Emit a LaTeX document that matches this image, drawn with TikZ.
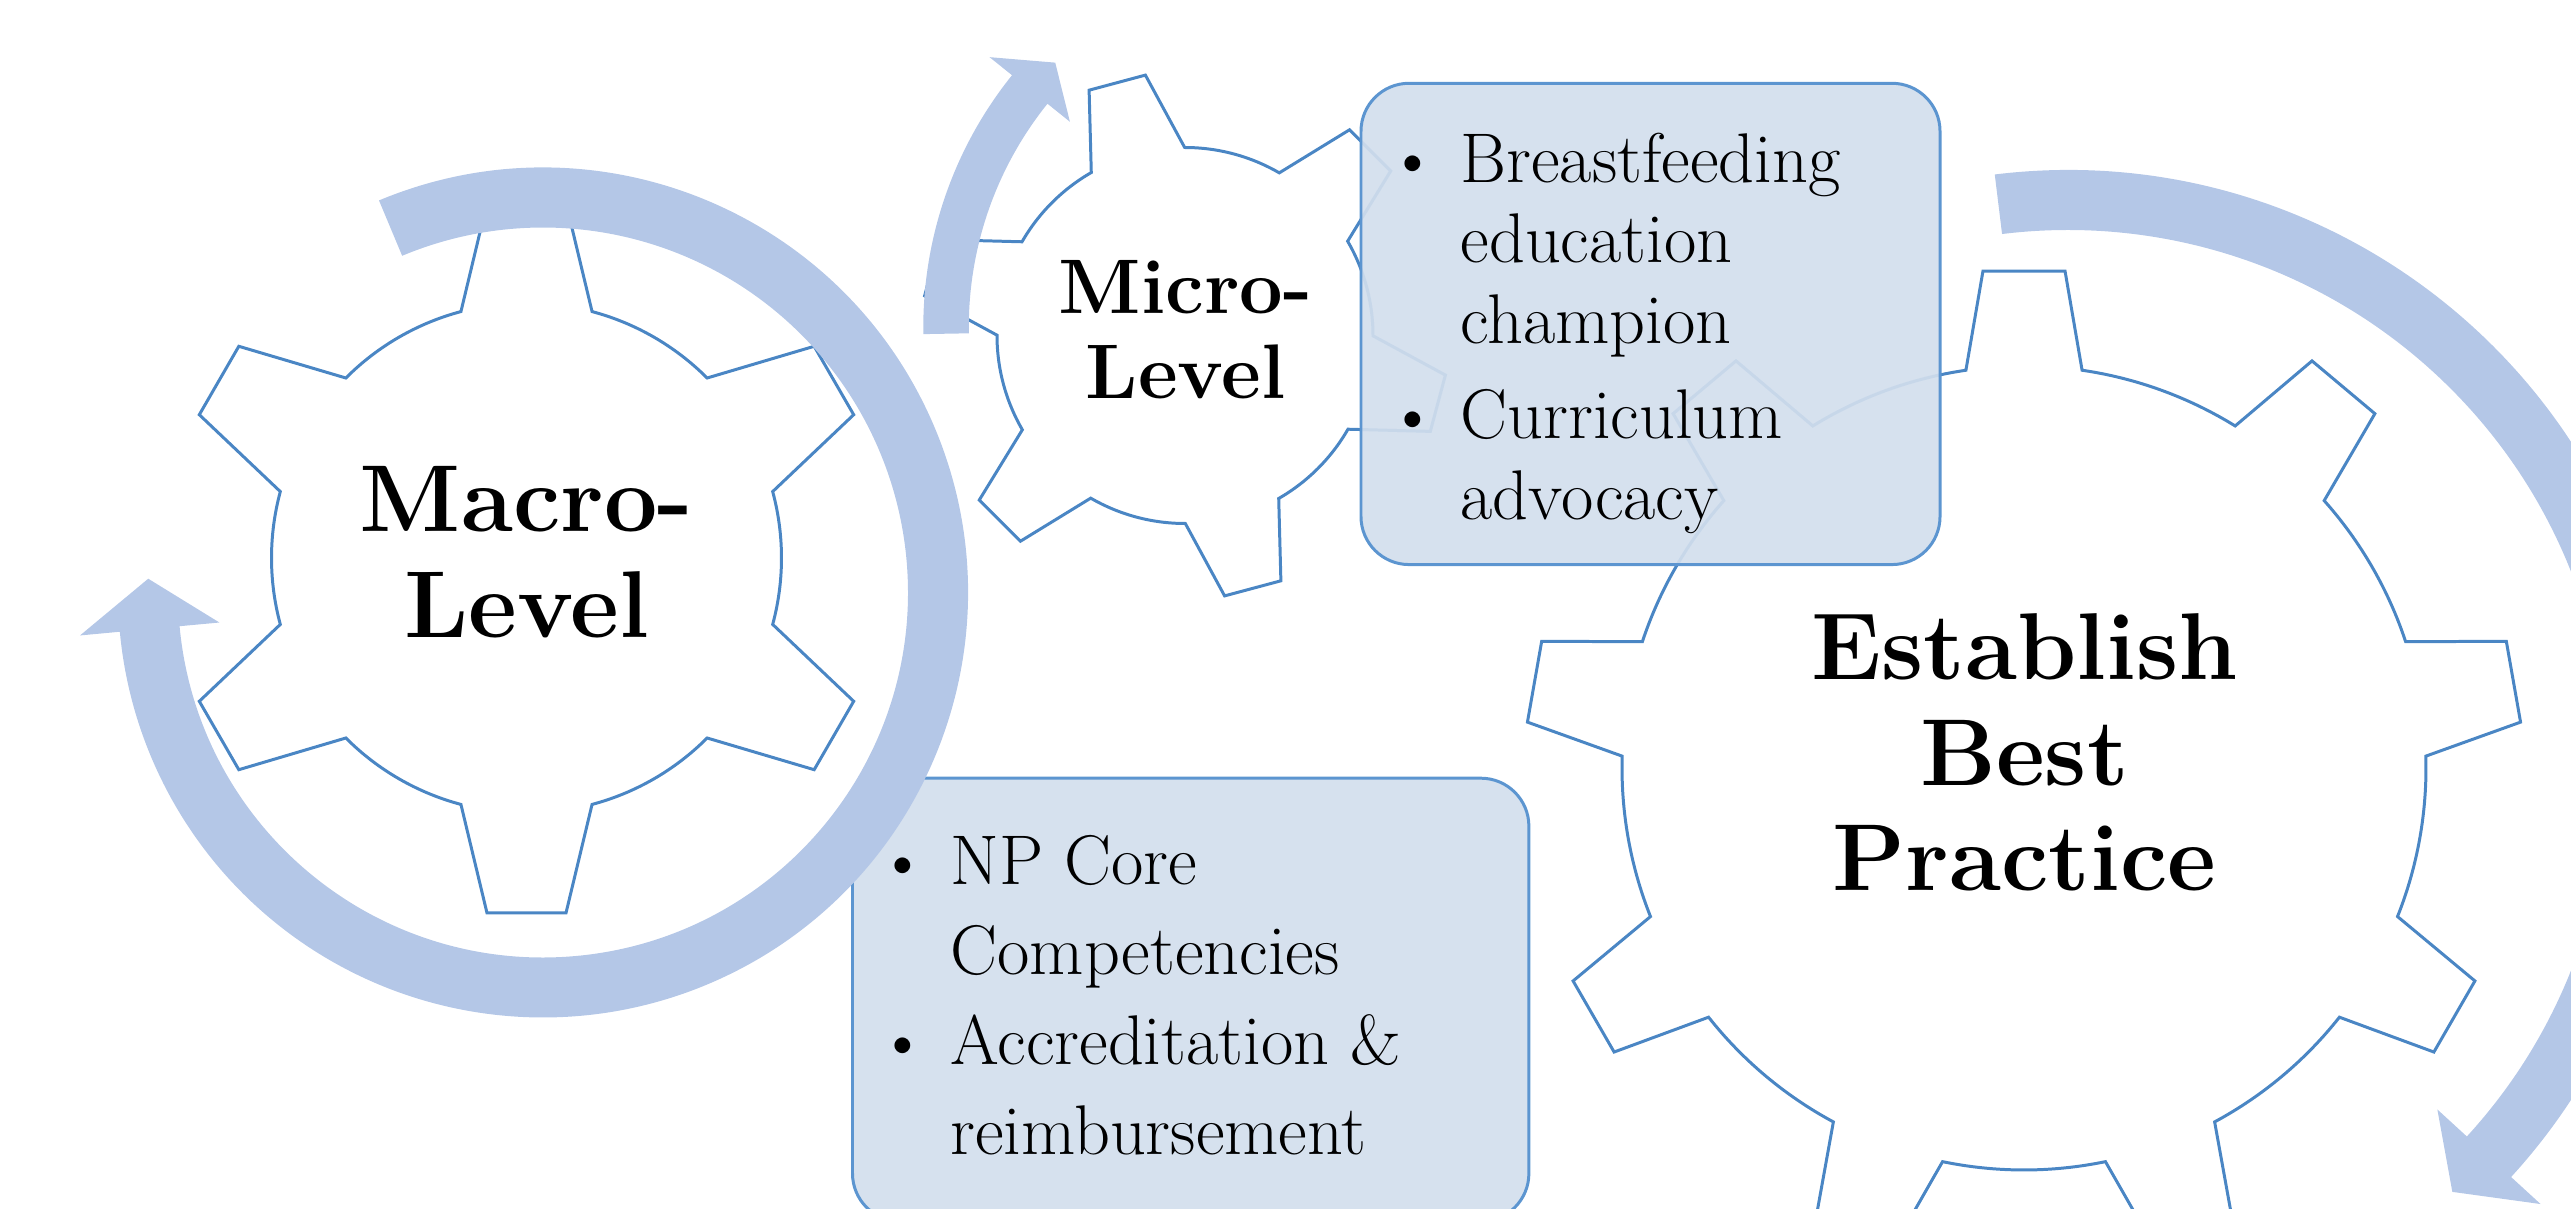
\documentclass[tikz,border=0pt]{standalone}
\usetikzlibrary{positioning}
\definecolor{gearblue}{HTML}{4A86C4}
\definecolor{bandblue}{HTML}{B4C7E7}
\definecolor{boxfill}{HTML}{D2DEED}
\definecolor{boxline}{HTML}{5C95D0}
\tikzset{
	gear/.style = {draw=gearblue, line width=0.85pt, line join=miter},
	band/.style = {fill=bandblue},
	notebox/.style = {draw=boxline, line width=0.85pt, fill=boxfill, fill opacity=0.92, rounded corners=0.48cm, inner sep=0pt, anchor=north west},
	bigtext/.style = {font=\fontsize{27}{30}\selectfont\bfseries, align=center, inner sep=0pt},
	smalltext/.style = {font=\fontsize{22}{24.1}\selectfont\bfseries, align=center, inner sep=0pt},
	itemtext/.style = {align=left, inner sep=0pt, anchor=north west}
}
\newcommand{\bul}{\makebox[0pt][c]{\textbullet}\hspace*{13.6pt}}
\newcommand{\ind}{\hspace*{13.6pt}}

\begin{document}
\begin{tikzpicture}[x=0.01cm, y=0.01cm]
		\useasboundingbox (0,0) rectangle (2571,1208);
		\clip (0,0) rectangle (2571,1208);
		% gears
		\draw[gear, shift={(526.5,650)}] (75.1:255)
			\foreach \ang in {90,150,...,420} {-- (\ang-6.35:357.2) -- (\ang+6.35:357.2) -- (\ang+14.9:255) arc[start angle=\ang+14.9, end angle=\ang+45.1, radius=255]} -- cycle;
		\draw[gear, shift={(1185,872.5)}] (90.1:188)
			\foreach \ang in {105,165,...,435} {-- (\ang-6.35:263.4) -- (\ang+6.35:263.4) -- (\ang+14.9:188) arc[start angle=\ang+14.9, end angle=\ang+45.1, radius=188]} -- cycle;
		\draw[gear, shift={(2024,440)}] (81.69:402)
			\foreach \ang in {90,130,...,410} {-- (\ang-4.72:498.7) -- (\ang+4.72:498.7) -- (\ang+8.31:402) arc[start angle=\ang+8.31, end angle=\ang+31.69, radius=402]} -- cycle;
		
		\node[bigtext] (macro) at (526.5,655.8) {Macro-\\Level};
		\node[smalltext] (micro) at (1185.5,878) {Micro-\\Level};
		\node[bigtext] (best) at (2024.5,455.5) {Establish\\Best\\Practice};
		
		% boxes
		\node[notebox, minimum width=5.787cm, minimum height=4.81cm] (box1) at (1359.5,1126.2) {};
		\node[notebox, minimum width=6.76cm, minimum height=4.43cm] (box2) at (851,431.3) {};
		
		\node[itemtext, font=\fontsize{20}{23}\selectfont] (list1) at (1412,1083.3)
			{\strut\bul Breastfeeding\\ \ind education\\ \ind champion\\[4pt] \bul Curriculum\\ \ind advocacy};
		\node[itemtext, font=\fontsize{20}{25.6}\selectfont] (list2) at (902,387.7)
			{\strut\bul NP Core\\ \ind Competencies\\ \bul Accreditation \&\\ \ind reimbursement};
		
		% arrows
		\fill[band, shift={(543,615.5)}] (112.7:425) arc[start angle=112.7, end angle=-174.7, radius=425]
			-- (-174.7:465) -- (178:395) -- (-174.7:325) -- (-174.7:365) arc[start angle=-174.7, end angle=112.7, radius=365] -- cycle;
		\fill[band, shift={(1325.3,880.9)}] (181:402) arc[start angle=181, end angle=141.2, radius=402]
			-- (141.2:430.8) -- (135.6:378) -- (141.2:327.7) -- (141.2:356.5) arc[start angle=141.2, end angle=181, radius=356.5] -- cycle;
		\fill[band, shift={(2068,437)}] (97:601) arc[start angle=97, end angle=-42.5, radius=601]
			-- (-42.5:641) -- (-47.6:570) -- (-42.5:501) -- (-42.5:541) arc[start angle=-42.5, end angle=97, radius=541] -- cycle;
	\end{tikzpicture}
\end{document}
